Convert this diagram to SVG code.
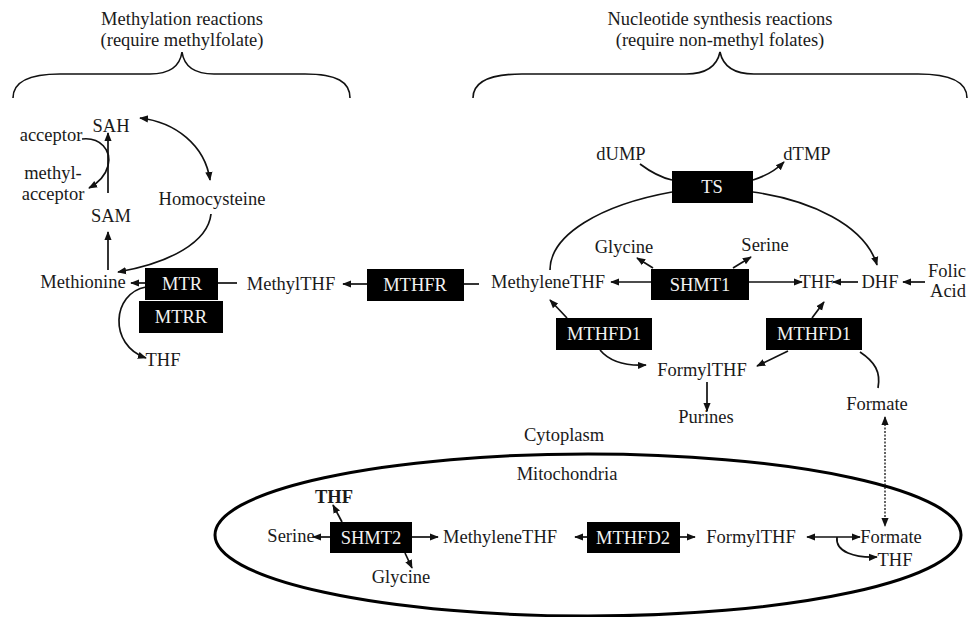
<svg xmlns="http://www.w3.org/2000/svg" width="971" height="617" viewBox="0 0 971 617">
<style>
  text { font-family: "Liberation Serif", "Times New Roman", serif; font-size: 18.5px; fill: #1a1a1a; text-anchor: middle; }
  .box rect { fill: #000; }
  .box text { fill: #f2f2f2; }
  .c { fill: none; stroke: #111; stroke-width: 1.7; }
  .brace { fill: none; stroke: #111; stroke-width: 1.6; }
  .end { marker-end: url(#ah); }
  .both { marker-end: url(#ah); marker-start: url(#ahs); }
  .dot { stroke-dasharray: 2 1.5; stroke-width: 1.3; }
</style>
<defs>
  <marker id="ah" viewBox="0 0 10 10" refX="9" refY="5" markerWidth="9" markerHeight="9" markerUnits="userSpaceOnUse" orient="auto">
    <path d="M0,1 L10,5 L0,9 z" fill="#111"/>
  </marker>
  <marker id="ahs" viewBox="0 0 10 10" refX="1" refY="5" markerWidth="9" markerHeight="9" markerUnits="userSpaceOnUse" orient="auto">
    <path d="M10,1 L0,5 L10,9 z" fill="#111"/>
  </marker>
</defs>
<rect width="971" height="617" fill="#fff"/>

<g id="headers">
  <text x="182" y="25">Methylation reactions</text>
  <text x="182" y="46">(require methylfolate)</text>
  <path class="brace" d="M13,98 C13,82 28,74 60,74 L150,74 C170,74 180,66 182,52 C184,66 194,74 214,74 L305,74 C337,74 350,82 350,98"/>
  <text x="720" y="25">Nucleotide synthesis reactions</text>
  <text x="720" y="46">(require non-methyl folates)</text>
  <path class="brace" d="M473,98 C473,82 490,74 522,74 L686,74 C706,74 717,66 720,52 C723,66 734,74 754,74 L918,74 C950,74 967,82 967,98"/>
</g>

<g id="compartments">
  <ellipse cx="588" cy="535" rx="373" ry="81" fill="none" stroke="#000" stroke-width="3"/>
  <text x="564" y="441">Cytoplasm</text>
  <text x="567" y="480">Mitochondria</text>
</g>

<g id="connectors">
  <!-- methylation cycle -->
  <path class="c end" d="M108,193 L108,133"/>
  <path class="c end" d="M82,139 C100,137 112,150 108,166 C105,177 98,183 89,188"/>
  <path class="c both" d="M140,118 C175,122 205,145 210,180"/>
  <path class="c end" d="M211,214 C208,242 170,263 118,272"/>
  <path class="c end" d="M108,270 L108,232"/>
  <path class="c end" d="M145,283 L131,283"/>
  <path class="c end" d="M146,287 C112,293 108,345 146,358"/>
  <path class="c" d="M218,283 L237,283"/>
  <path class="c end" d="M367,284 L343,284"/>
  <path class="c" d="M464,284 L479,284"/>
  <!-- cytoplasm nucleotide -->
  <path class="c end" d="M651,282 L611,282"/>
  <path class="c end" d="M749,282 L802,282"/>
  <path class="c end" d="M858,282 L833,282"/>
  <path class="c end" d="M925,282 L903,282"/>
  <path class="c end" d="M653,268 L637,258"/>
  <path class="c end" d="M733,268 L751,257"/>
  <path class="c end" d="M567,318 L550,300"/>
  <path class="c end" d="M600,350 C610,362 628,366 646,365"/>
  <path class="c end" d="M812,318 L824,302"/>
  <path class="c end" d="M788,351 L757,366"/>
  <path class="c" d="M860,352 C875,362 881,372 878,388"/>
  <path class="c end" d="M707,382 L707,411"/>
  <path class="c both dot" d="M885,417 L885,526"/>
  <path class="c" d="M672,192 C600,205 550,235 550,270"/>
  <path class="c end" d="M753,192 C810,200 865,225 877,265"/>
  <path class="c" d="M640,164 C652,173 663,178 672,180"/>
  <path class="c end" d="M753,180 C766,176 776,170 784,162"/>
  <!-- mitochondria -->
  <path class="c end" d="M342,522 L333,505"/>
  <path class="c end" d="M330,537 L313,537"/>
  <path class="c end" d="M412,537 L438,537"/>
  <path class="c end" d="M405,553 L412,568"/>
  <path class="c end" d="M587,537 L575,537"/>
  <path class="c end" d="M680,537 L695,537"/>
  <path class="c both" d="M807,537 L860,537"/>
  <path class="c end" d="M837,537 C835,552 855,558 877,557"/>
</g>

<g id="metabolites">
  <text x="111" y="132">SAH</text>
  <text x="51" y="141">acceptor</text>
  <text x="53" y="179">methyl-</text>
  <text x="53" y="200">acceptor</text>
  <text x="212" y="205">Homocysteine</text>
  <text x="111" y="222">SAM</text>
  <text x="83" y="288">Methionine</text>
  <text x="291" y="290">MethylTHF</text>
  <text x="163" y="366">THF</text>
  <text x="621" y="160">dUMP</text>
  <text x="807" y="160">dTMP</text>
  <text x="624" y="253">Glycine</text>
  <text x="765" y="251">Serine</text>
  <text x="548" y="288">MethyleneTHF</text>
  <text x="817" y="288">THF</text>
  <text x="880" y="288">DHF</text>
  <text x="947" y="277">Folic</text>
  <text x="948" y="297">Acid</text>
  <text x="702" y="376">FormylTHF</text>
  <text x="706" y="423">Purines</text>
  <text x="877" y="410">Formate</text>
  <text x="334" y="503" font-weight="bold">THF</text>
  <text x="291" y="542">Serine</text>
  <text x="500" y="543">MethyleneTHF</text>
  <text x="751" y="543">FormylTHF</text>
  <text x="891" y="543">Formate</text>
  <text x="895" y="566">THF</text>
  <text x="401" y="583">Glycine</text>
</g>

<g id="MTR" class="box"><rect x="145" y="268" width="73" height="32"/><text x="182" y="290">MTR</text></g>
<g id="MTRR" class="box"><rect x="139" y="301" width="84" height="32"/><text x="181" y="323">MTRR</text></g>
<g id="MTHFR" class="box"><rect x="367" y="269" width="97" height="32"/><text x="415" y="291">MTHFR</text></g>
<g id="TS" class="box"><rect x="672" y="171" width="81" height="32"/><text x="712" y="193">TS</text></g>
<g id="SHMT1" class="box"><rect x="651" y="269" width="98" height="31"/><text x="700" y="291">SHMT1</text></g>
<g id="MTHFD1a" class="box"><rect x="556" y="318" width="96" height="32"/><text x="604" y="340">MTHFD1</text></g>
<g id="MTHFD1b" class="box"><rect x="766" y="318" width="96" height="32"/><text x="814" y="340">MTHFD1</text></g>
<g id="SHMT2" class="box"><rect x="330" y="522" width="82" height="31"/><text x="371" y="544">SHMT2</text></g>
<g id="MTHFD2" class="box"><rect x="587" y="522" width="93" height="31"/><text x="633" y="544">MTHFD2</text></g>
</svg>
